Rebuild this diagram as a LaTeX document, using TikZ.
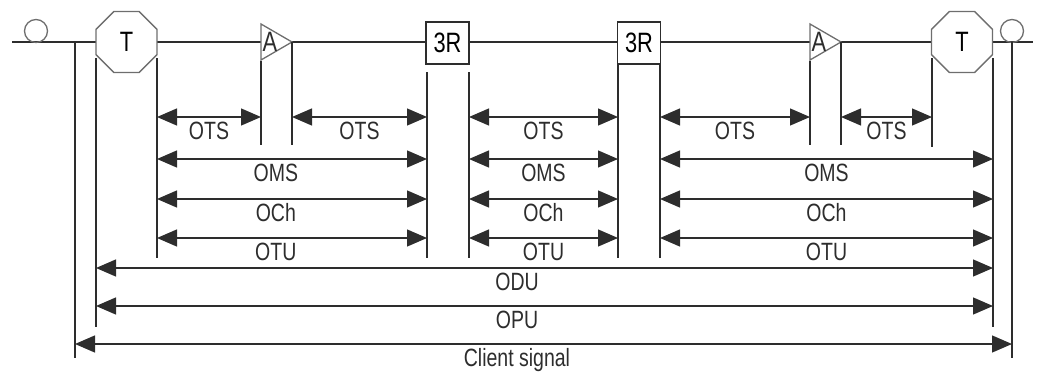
\documentclass[tikz,border=0pt]{standalone}
\usepackage{fontspec}
\setmainfont[FakeStretch=0.78]{Liberation Sans}
\usetikzlibrary{arrows.meta,shapes.geometric,calc}
\definecolor{LineGray}{RGB}{45,45,45}
\definecolor{ShapeGray}{RGB}{110,110,110}
\tikzset{
  term/.style={regular polygon,regular polygon sides=8,draw=ShapeGray,fill=white,
    line width=1.3pt,minimum size=66pt,inner sep=0pt,font=\fontsize{28}{30}\selectfont},
  regen/.style={draw=LineGray,fill=white,line width=1.3pt,minimum width=43pt,
    minimum height=42pt,inner sep=0pt,font=\fontsize{28}{30}\selectfont},
  ampbox/.style={draw=ShapeGray,fill=white,line width=1.3pt,line join=miter},
  amplabel/.style={inner sep=0pt,text=LineGray,font=\fontsize{28}{30}\selectfont},
  guide/.style={LineGray,line width=1.3pt},
  span/.style={{Triangle[length=20pt,width=17pt]}-{Triangle[length=20pt,width=17pt]},
    LineGray,line width=1.3pt},
  lbl/.style={anchor=base,yshift=-22.5pt,inner sep=0pt,text=LineGray}
}

\begin{document}
\begin{tikzpicture}[x=1pt,y=-1pt,font=\fontsize{25}{27}\selectfont]
      \useasboundingbox (0,0) rectangle (1037,372);
      % fibre
      \draw[guide,line width=1.6pt] (12,42) -- (1033,42);
      \node[draw=ShapeGray,line width=1.3pt,circle,minimum size=23pt,inner sep=0pt] (cin) at (36,31) {};
      \node[draw=ShapeGray,line width=1.3pt,circle,minimum size=23pt,inner sep=0pt] (cout) at (1012,31) {};
      % equipment
      \node[term] (t1) at (126.5,42) {T};
      \node[term] (t2) at (962,42) {T};
      \node[regen] (r1) at (447.5,43) {3R};
      \node[regen] (r2) at (639,43) {3R};
      \draw[ampbox] (261,24) -- (292,42) -- (261,60) -- cycle;
      \draw[ampbox] (810,24) -- (841,42) -- (810,60) -- cycle;
      \node[amplabel] (a1) at (270,42) {A};
      \node[amplabel] (a2) at (819,42) {A};
      % section bounds
      \draw[guide] (75,42) -- (75,358);
      \draw[guide] (1012,42) -- (1012,358);
      \draw[guide] (96,58) -- (96,327);
      \draw[guide] (993,58) -- (993,327);
      \draw[guide] (157,58) -- (157,258);
      \draw[guide] (427,72) -- (427,258);
      \draw[guide] (469,72) -- (469,258);
      \draw[guide] (618,64) -- (618,258);
      \draw[guide] (660,64) -- (660,258);
      \draw[guide] (261,61) -- (261,145);
      \draw[guide] (292,42) -- (292,145);
      \draw[guide] (810,61) -- (810,145);
      \draw[guide] (841,42) -- (841,145);
      \draw[guide] (932,58) -- (932,147);
      % layers
      \foreach \a/\b in {157/261,292/427,469/618,660/810,841/932}
        \draw[span] (\a,117) -- node[lbl]{OTS} (\b,117);
      \foreach \r/\t in {159/OMS,199/OCh,238/OTU} {
        \draw[span] (157,\r) -- node[lbl,pos=0.44]{\t} (427,\r);
        \draw[span] (469,\r) -- node[lbl]{\t} (618,\r);
        \draw[span] (660,\r) -- node[lbl]{\t} (993,\r);
      }
      \draw[span] (96,268) -- (993,268);
      \node[lbl] (odu) at (517,268) {ODU};
      \draw[span] (96,306) -- (993,306);
      \node[lbl] (opu) at (517,306) {OPU};
      \draw[span] (75,344) -- (1012,344);
      \node[lbl] (cli) at (517,344) {Client signal};
    \end{tikzpicture}
\end{document}
